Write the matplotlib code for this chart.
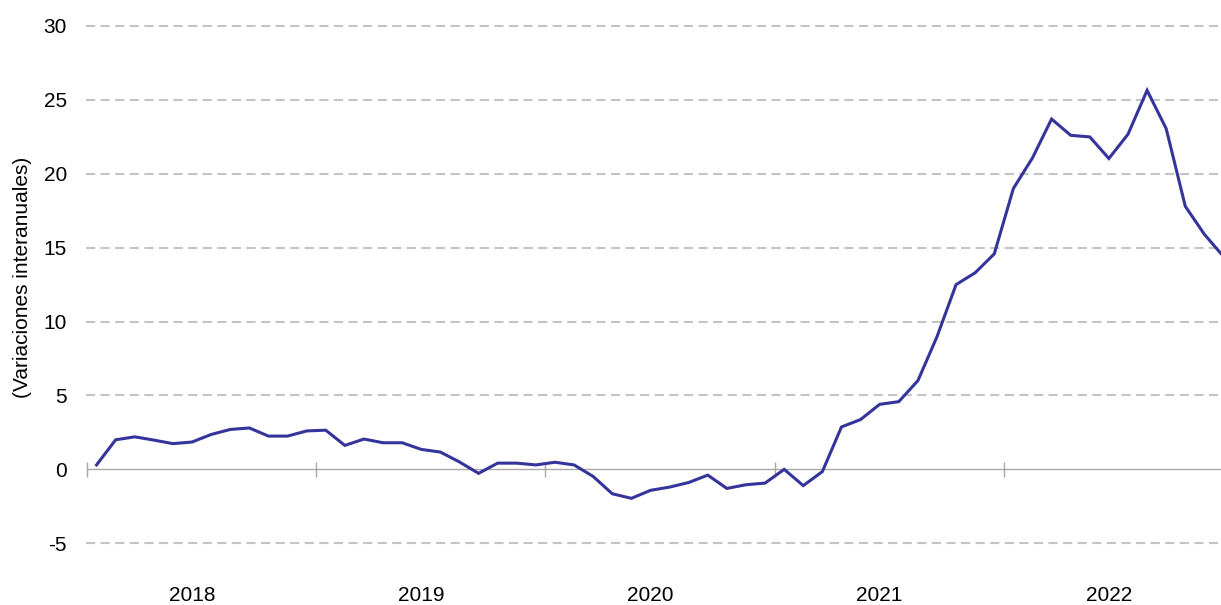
import matplotlib
matplotlib.use("Agg")
import matplotlib.pyplot as plt
import numpy as np

plt.rcParams['font.family'] = ['Liberation Sans', 'DejaVu Sans']

years = ["2018", "2019", "2020", "2021", "2022"]
values = [
    0.3, 2.0, 2.2, 1.98, 1.74, 1.85, 2.36, 2.7, 2.8, 2.25, 2.25, 2.6,
    2.65, 1.62, 2.05, 1.8, 1.8, 1.35, 1.17, 0.5, -0.27, 0.42, 0.42, 0.3,
    0.48, 0.3, -0.48, -1.65, -1.96, -1.42, -1.2, -0.89, -0.39, -1.29, -1.04, -0.93,
    0.0, -1.1, -0.15, 2.87, 3.37, 4.4, 4.58, 6.0, 8.97, 12.5, 13.3, 14.58,
    19.0, 21.07, 23.7, 22.6, 22.49, 21.03, 22.67, 25.64, 23.05, 17.8, 15.9, 14.4,
]
yticks = [-5, 0, 5, 10, 15, 20, 25, 30]
ylabel = "(Variaciones interanuales)"

line_color = "#34349a"
grid_color = "#c4c4c4"
zero_color = "#a8a8a8"

fig = plt.figure(figsize=(12.21, 6.05), dpi=100)
ax = fig.add_axes([87 / 1221, 27 / 605, 1134 / 1221, 558 / 605])

x = np.arange(len(values))
ax.set_xlim(-0.5, 58.87)
ax.set_ylim(-7.35, 30.4)

# dashed gridlines (excluding zero)
for v in yticks:
    if v != 0:
        ax.axhline(v, color=grid_color, lw=1.5, dashes=(4.4, 2.6), zorder=1,
                   xmin=-0.001, clip_on=False)
ax.axhline(0, color=zero_color, lw=1.0, zorder=2)

# year separators on the zero line
bounds = np.arange(len(years)) * 12 - 0.5
ax.vlines(bounds, -0.5, 0.5, color=zero_color, lw=1.0, zorder=2, clip_on=False)

ax.plot(x, values, color=line_color, lw=2.2, zorder=3, solid_joinstyle='miter')

ax.set_yticks(yticks)
ax.set_yticklabels([str(v) for v in yticks], fontsize=15)
ax.tick_params(axis='y', length=0, pad=14.5)

ax.set_xticks(np.arange(len(years)) * 12 + 5)
ax.set_xticklabels(years, fontsize=15)
ax.tick_params(axis='x', length=0, pad=6)

for s in ax.spines.values():
    s.set_visible(False)

ax.text(-0.0573, 0.5385, ylabel, rotation=90, ha='center', va='center',
        fontsize=15, transform=ax.transAxes)

fig.savefig("out.png", dpi=100)
